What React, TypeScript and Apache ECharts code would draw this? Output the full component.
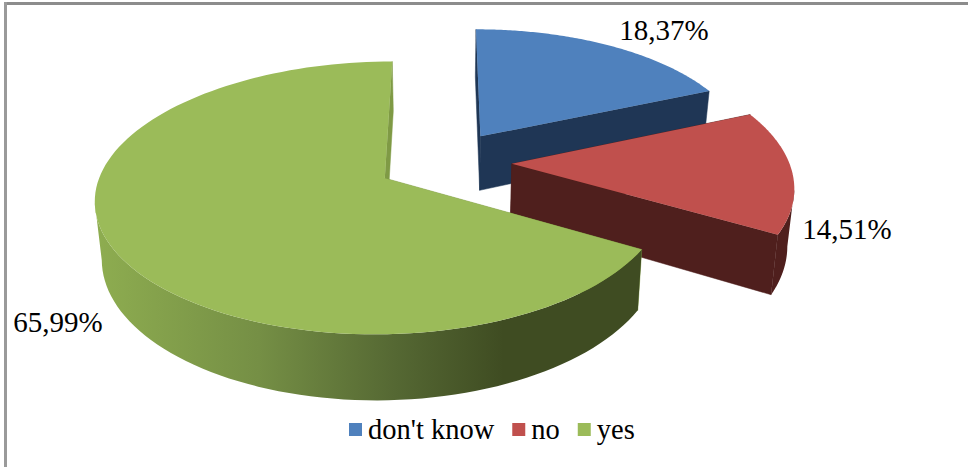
import React, { useEffect, useRef } from "react";
import * as echarts from "echarts";

const categories = ["don't know", "no", "yes"];
const shares = [18.37, 14.51, 65.99];

const topColors = ["#4F81BD", "#C0504D", "#9BBB59"];
const wallColors: any[] = [
  "#1F3655",
  "#4F1F1D",
  {
    type: "linear",
    x: 95,
    y: 0,
    x2: 640,
    y2: 0,
    global: true,
    colorStops: [
      { offset: 0, color: "#8EAD50" },
      { offset: 0.3, color: "#758F45" },
      { offset: 0.55, color: "#556833" },
      { offset: 0.75, color: "#3F4C22" },
      { offset: 1, color: "#3F4C22" },
    ],
  },
];
const edgeColors = ["#1F3655", "#4F1F1D", "#7F9A45"];

// Where each percentage sits, as centre points of the text.
const labelCentres = [
  [664, 30],
  [847, 229],
  [58, 322],
];

// Radial stretch of each slice's rim.
const rimScale = [1, 1.025, 1];

// Camera used to flatten the pie onto the page.
const CX = 444;
const CY = 162;
const RX = 278;
const RY = 129;
const LEFT_SQUEEZE = 0.984;
const PERSPECTIVE = 0.142;
const LENS_SKEW = -5;
const THICKNESS = 55.5;
const BASE_NARROWING = 0.98;
const EXPLODE = 0.245;
const ARC_STEPS = 120;

const FONT_FAMILY = '"Liberation Serif", "Times New Roman", serif';
const LABEL_SIZE = 29;
const LEGEND_SIZE = 28.5;

function project(u: number, v: number, lowered: boolean): number[] {
  const s = 1 / (1 + PERSPECTIVE * v);
  const stretch = u < 0 ? RX * LEFT_SQUEEZE : RX;
  const x = stretch * u * s + LENS_SKEW * u * u * s;
  const y = CY - RY * v * s;
  if (!lowered) return [CX + x, y];
  return [CX + x * BASE_NARROWING, y + THICKNESS * s];
}

function formatShare(value: number): string {
  return value.toFixed(2).replace(".", ",") + "%";
}

function renderSlice(index: number) {
  return (_params: any, api: any) => {
    const value = api.value(0);
    const total = shares.reduce((a, b) => a + b, 0);
    const before = shares.slice(0, index).reduce((a, b) => a + b, 0);
    const start = (before / total) * Math.PI * 2;
    const end = start + (value / total) * Math.PI * 2;
    const mid = (start + end) / 2;
    const apexU = Math.sin(mid) * EXPLODE;
    const apexV = Math.cos(mid) * EXPLODE;
    const radius = rimScale[index];

    const rim: number[][] = [];
    for (let i = 0; i <= ARC_STEPS; i++) {
      const t = start + ((end - start) * i) / ARC_STEPS;
      rim.push([apexU + radius * Math.sin(t), apexV + radius * Math.cos(t)]);
    }
    const upper = rim.map(([u, v]) => project(u, v, false));
    const lower = rim.map(([u, v]) => project(u, v, true));
    const apexUpper = project(apexU, apexV, false);
    const apexLower = project(apexU, apexV, true);
    const edge = edgeColors[index];

    const quad = (a: number[], b: number[], c: number[], d: number[]) => ({
      type: "polygon",
      shape: { points: [a, b, c, d] },
      style: { fill: edge, stroke: edge, lineWidth: 0.5 },
    });

    // The curved wall runs between the rim's rightmost and leftmost points on
    // the page; beyond those it would fold back behind the top face.
    let rightmost = 0;
    let leftmost = 0;
    upper.forEach((p, i) => {
      if (p[0] > upper[rightmost][0]) rightmost = i;
      if (p[0] < upper[leftmost][0]) leftmost = i;
    });
    const wallEnd = leftmost > rightmost ? leftmost : ARC_STEPS;
    const curved: any[] =
      wallEnd > rightmost
        ? [
            {
              type: "polygon",
              shape: {
                points: [
                  ...upper.slice(rightmost, wallEnd + 1),
                  ...lower.slice(rightmost, wallEnd + 1).reverse(),
                ],
              },
              style: { fill: wallColors[index] },
            },
          ]
        : [];

    return {
      type: "group",
      children: [
        quad(apexUpper, upper[0], lower[0], apexLower),
        quad(apexUpper, upper[ARC_STEPS], lower[ARC_STEPS], apexLower),
        ...curved,
        {
          type: "polygon",
          shape: { points: [apexUpper, ...upper] },
          style: { fill: topColors[index] },
        },
        {
          type: "text",
          style: {
            text: formatShare(value),
            x: labelCentres[index][0],
            y: labelCentres[index][1],
            align: "center",
            verticalAlign: "middle",
            fill: "#000000",
            font: `${LABEL_SIZE}px ${FONT_FAMILY}`,
          },
        },
      ],
    };
  };
}

export default function App() {
  const ref = useRef<HTMLDivElement>(null);

  useEffect(() => {
    const chart = echarts.init(ref.current!, null, { renderer: "svg" });
    chart.setOption({
      animation: false,
      backgroundColor: "#FFFFFF",
      legend: {
        data: categories,
        left: 344,
        top: 410,
        icon: "rect",
        itemWidth: 13,
        itemHeight: 13,
        itemGap: 18,
        textStyle: {
          fontFamily: FONT_FAMILY,
          fontSize: LEGEND_SIZE,
          color: "#000000",
          padding: [0, 0, 0, 1],
        },
        selectedMode: false,
      },
      graphic: [
        { type: "rect", shape: { x: 4, y: 2, width: 964, height: 3 }, style: { fill: "#8C8C8C" } },
        { type: "rect", shape: { x: 4, y: 2, width: 3, height: 465 }, style: { fill: "#9A9A9A" } },
      ],
      series: categories.map((name, index) => ({
        type: "custom",
        name,
        coordinateSystem: "none",
        silent: true,
        itemStyle: { color: topColors[index] },
        data: [[shares[index]]],
        renderItem: renderSlice(index),
      })),
    });
    return () => chart.dispose();
  }, []);

  return (
    <div
      ref={ref}
      style={{ position: "absolute", left: 0, top: 0, width: 968, height: 467 }}
    />
  );
}
